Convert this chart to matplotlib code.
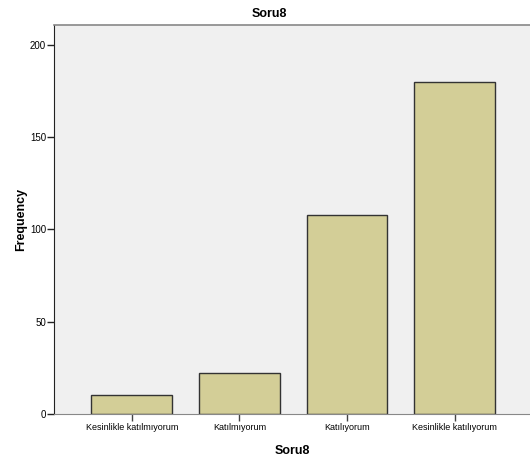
import matplotlib
matplotlib.use('Agg')
import matplotlib.pyplot as plt
import numpy as np

plt.rcParams['font.family'] = ['Liberation Sans', 'DejaVu Sans']

categories = ['Kesinlikle katılmıyorum', 'Katılmıyorum', 'Katılıyorum', 'Kesinlikle katılıyorum']
frequency = [10, 22, 108, 180]
yticks = [0, 50, 100, 150, 200]

fig = plt.figure(figsize=(5.3, 4.66), dpi=100)
ax = fig.add_axes([0.1025, 0.1122, 0.8975, 0.8342])
ax.set_facecolor('#f0f0f0')

x = np.arange(len(categories))
ax.bar(x, frequency, width=0.75, color='#d3ce97', edgecolor='#333333', linewidth=1.0, zorder=2)

ax.set_xlim(-0.72, 3.70)
ax.set_ylim(0, 211)
ax.set_yticks(yticks)
ax.set_xticks(x)
ax.set_xticklabels(categories, fontsize=6.5)
ax.tick_params(axis='y', labelsize=7, length=5, width=1, color='#222222', pad=1)
ax.tick_params(axis='x', length=5, width=1, color='#444444', pad=2)

ax.spines['left'].set_color('#222222')
ax.spines['bottom'].set_color('#888888')
ax.spines['top'].set_color('#888888')
ax.spines['top'].set_linewidth(1.2)
ax.spines['right'].set_visible(False)

ax.set_ylabel('Frequency', fontsize=9, fontweight='bold', labelpad=2)
ax.set_xlabel('Soru8', fontsize=9, fontweight='bold', labelpad=9)
fig.text(0.508, 0.971, 'Soru8', ha='center', va='center', fontsize=9, fontweight='bold')

fig.savefig('out.png', dpi=100)
